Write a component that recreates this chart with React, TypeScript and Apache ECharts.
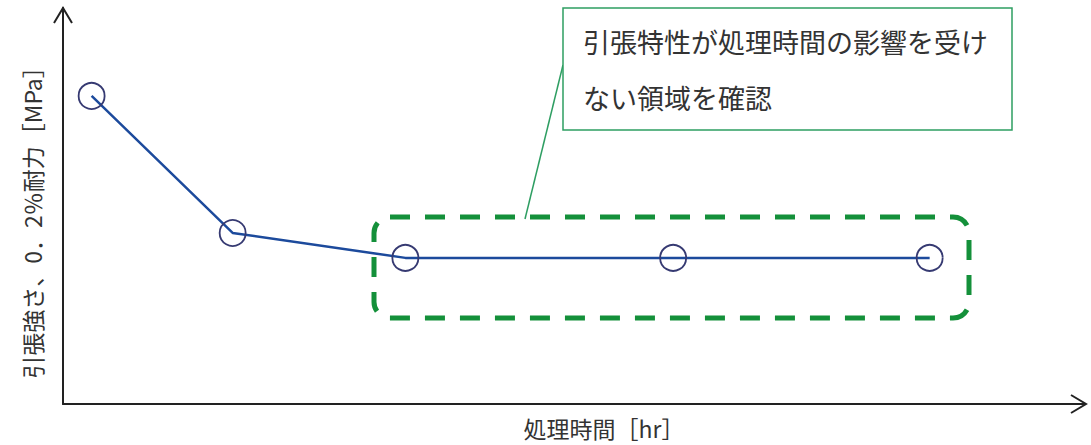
import React, { useEffect, useRef } from "react";
import * as echarts from "echarts";

// Schematic data (relative units)
const processingTime = [2.8, 16.6, 33.5, 59.7, 84.8];
const strength = [77.8, 43.2, 36.9, 36.9, 36.9];

const xAxisTitle = "処理時間［hr］";
const yAxisTitle = "引張強さ、0．2％耐力［MPa］";
const noteLines = ["引張特性が処理時間の影響を受け", "ない領域を確認"];

const FONT = '"Noto Sans CJK JP", "Noto Sans", sans-serif';

export default function App() {
  const ref = useRef<HTMLDivElement>(null);

  useEffect(() => {
    document.body.style.margin = "0";
    if (!ref.current) return;
    const chart = echarts.init(ref.current, undefined, { renderer: "svg" });
    const data = processingTime.map((t, i) => [t, strength[i]]);
    const green = "#14903a";
    const boxGreen = "#2e9e62";
    const textColor = "#333333";

    chart.setOption({
      animation: false,
      backgroundColor: "#ffffff",
      grid: { left: 63, right: 6, top: 8, bottom: 41 },
      xAxis: {
        type: "value",
        min: 0,
        max: 100,
        axisLine: { show: true, onZero: false, lineStyle: { color: "#222", width: 2 } },
        axisTick: { show: false },
        axisLabel: { show: false },
        splitLine: { show: false },
      },
      yAxis: {
        type: "value",
        min: 0,
        max: 100,
        axisLine: { show: true, onZero: false, lineStyle: { color: "#222", width: 2 } },
        axisTick: { show: false },
        axisLabel: { show: false },
        splitLine: { show: false },
      },
      series: [
        {
          type: "line",
          data,
          symbol: "circle",
          symbolSize: 26,
          lineStyle: { color: "#1c4a9c", width: 2.5 },
          itemStyle: { color: "rgba(0,0,0,0)", borderColor: "#363a72", borderWidth: 1.8 },
          z: 3,
        },
      ],
      graphic: [
        {
          type: "polyline",
          shape: { points: [[54, 23], [63, 8], [72, 23]] },
          style: { stroke: "#222", lineWidth: 2, fill: "none" },
        },
        {
          type: "polyline",
          shape: { points: [[1071, 395], [1086, 404], [1071, 413]] },
          style: { stroke: "#222", lineWidth: 2, fill: "none" },
        },
        {
          type: "text",
          x: 604,
          y: 428,
          style: {
            text: xAxisTitle,
            fontSize: 23,
            fontFamily: FONT,
            fill: textColor,
            align: "center",
            verticalAlign: "middle",
          },
        },
        {
          type: "text",
          x: 32,
          y: 217,
          rotation: Math.PI / 2,
          style: {
            text: yAxisTitle,
            fontSize: 23,
            fontFamily: FONT,
            fill: textColor,
            align: "center",
            verticalAlign: "middle",
          },
        },
        {
          type: "rect",
          shape: { x: 374, y: 217, width: 595, height: 101, r: 16 },
          style: { fill: "none", stroke: green, lineWidth: 5, lineDash: [20, 15] },
          z: 1,
        },
        {
          type: "line",
          shape: { x1: 563, y1: 65, x2: 525, y2: 219 },
          style: { stroke: boxGreen, lineWidth: 1.5 },
        },
        {
          type: "rect",
          shape: { x: 563, y: 8, width: 449, height: 122 },
          style: { fill: "#ffffff", stroke: boxGreen, lineWidth: 1.5 },
        },
        {
          type: "text",
          x: 583,
          y: 41,
          style: {
            text: noteLines[0],
            fontSize: 27,
            fontFamily: FONT,
            fill: textColor,
            align: "left",
            verticalAlign: "middle",
          },
        },
        {
          type: "text",
          x: 583,
          y: 97,
          style: {
            text: noteLines[1],
            fontSize: 27,
            fontFamily: FONT,
            fill: textColor,
            align: "left",
            verticalAlign: "middle",
          },
        },
      ],
    });

    return () => chart.dispose();
  }, []);

  return <div ref={ref} style={{ width: 1091, height: 445 }} />;
}
